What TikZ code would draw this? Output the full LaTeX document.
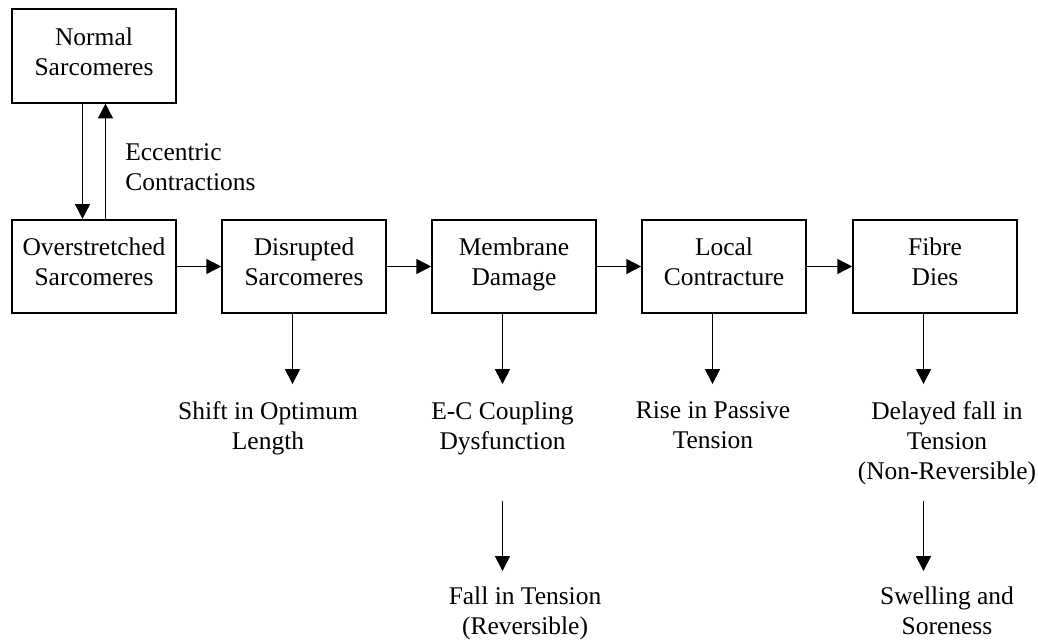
\documentclass[tikz,border=0pt]{standalone}
\usepackage{fontspec}
\setmainfont{Liberation Serif}
\usetikzlibrary{arrows.meta}

\begin{document}
\begin{tikzpicture}[every node/.style={font=\fontsize{14.5}{17}\selectfont},
  stage/.style={draw, line width=0.9pt, minimum width=3.28cm, minimum height=1.87cm, align=center, inner sep=0pt,
    execute at begin node=\strut, execute at end node=\strut},
  result/.style={align=center, inner sep=0pt, anchor=north},
  arr/.style={-{Triangle[length=8.5pt,width=8.5pt]}, line width=0.9pt}]

  \useasboundingbox (0,0) rectangle (20.76,12.78);

  % Define the stage boxes along the main row
  \node[stage] (normal) at (1.88,11.66) {Normal\\Sarcomeres};
  \node[stage] (over) at (1.88,7.45) {Overstretched\\Sarcomeres};
  \node[stage] (disr) at (6.08,7.45) {Disrupted\\Sarcomeres};
  \node[stage] (memb) at (10.28,7.45) {Membrane\\Damage};
  \node[stage] (local) at (14.48,7.45) {Local\\Contracture};
  \node[stage] (fibre) at (18.70,7.45) {Fibre\\Dies};

  % Define the outcomes below the boxes
  \node[result] (shift) at (5.36,4.75) {Shift in Optimum\\Length};
  \node[result] (ec) at (10.05,4.75) {E-C Coupling\\Dysfunction};
  \node[result] (rise) at (14.26,4.75) {Rise in Passive\\Tension};
  \node[result] (delayed) at (18.94,4.75) {Delayed fall in\\Tension\\(Non-Reversible)};
  \node[result] (fall) at (10.50,1.05) {Fall in Tension\\(Reversible)};
  \node[result] (swell) at (18.94,1.05) {Swelling and\\Soreness};

  % Draw the loop between normal and overstretched
  \draw[arr] ([xshift=-0.23cm]normal.south) -- ([xshift=-0.23cm]over.north);
  \draw[arr] ([xshift=0.23cm]over.north) -- ([xshift=0.23cm]normal.south);
  \node[anchor=west, align=left, inner sep=0pt] (ecc) at (2.50,9.43) {Eccentric\\Contractions};

  % Draw arrows along the row
  \draw[arr] (over) -- (disr);
  \draw[arr] (disr) -- (memb);
  \draw[arr] (memb) -- (local);
  \draw[arr] (local) -- (fibre);

  % Draw arrows down to the outcomes
  \draw[arr] ([xshift=-0.23cm]disr.south) -- ([xshift=-0.23cm,yshift=-1.4cm]disr.south);
  \draw[arr] ([xshift=-0.23cm]memb.south) -- ([xshift=-0.23cm,yshift=-1.4cm]memb.south);
  \draw[arr] ([xshift=-0.23cm]local.south) -- ([xshift=-0.23cm,yshift=-1.4cm]local.south);
  \draw[arr] ([xshift=-0.23cm]fibre.south) -- ([xshift=-0.23cm,yshift=-1.4cm]fibre.south);

  \draw[arr] ([xshift=-0.23cm,yshift=-3.74cm]memb.south) -- ([xshift=-0.23cm,yshift=-5.14cm]memb.south);
  \draw[arr] ([xshift=-0.23cm,yshift=-3.74cm]fibre.south) -- ([xshift=-0.23cm,yshift=-5.14cm]fibre.south);

\end{tikzpicture}
\end{document}
